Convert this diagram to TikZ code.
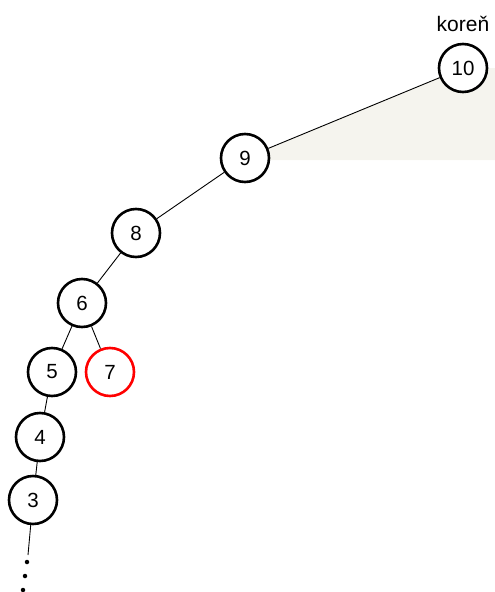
\documentclass[tikz,border=0pt]{standalone}
\usepackage{fontspec}
\setmainfont{Liberation Sans}
\begin{document}
\begin{tikzpicture}[x=1pt,y=-1pt,
  treenode/.style={circle,draw=black,line width=2.6pt,fill=white,minimum size=48pt,inner sep=0pt,font=\fontsize{20.5}{20.5}\selectfont},
  rednode/.style={treenode,draw=red},
  edge/.style={draw=black,line width=0.9pt},
  dotmark/.style={circle,fill=black,inner sep=0pt,minimum size=4.5pt}]
\useasboundingbox (0,0) rectangle (495,592);
\definecolor{bgbeige}{RGB}{245,244,238}

% node positions
\coordinate (p10) at (463,68);
\coordinate (p9) at (245,158);
\fill[bgbeige] (p9) -- (p10) -- (495,68) -- (495,160) -- (245,160) -- cycle;

\node[treenode] (n10) at (p10) {10};
\node[treenode] (n9) at (p9) {9};
\node[treenode] (n8) at (136,233) {8};
\node[treenode] (n6) at (82,303) {6};
\node[treenode] (n5) at (52,372) {5};
\node[rednode] (n7) at (110,372) {7};
\node[treenode] (n4) at (40,437) {4};
\node[treenode] (n3) at (33,500) {3};

\node[font=\fontsize{21}{21}\selectfont] (root) at (463,24) {koreň};

\coordinate (tail) at (28,555);
\node[dotmark] (d1) at (27,562) {};
\node[dotmark] (d2) at (25,576) {};
\node[dotmark] (d3) at (23,590) {};

\draw[edge] (n10) -- (n9);
\draw[edge] (n9) -- (n8);
\draw[edge] (n8) -- (n6);
\draw[edge] (n6) -- (n5);
\draw[edge] (n6) -- (n7);
\draw[edge] (n5) -- (n4);
\draw[edge] (n4) -- (n3);
\draw[edge] (n3) -- (tail);
\end{tikzpicture}
\end{document}
